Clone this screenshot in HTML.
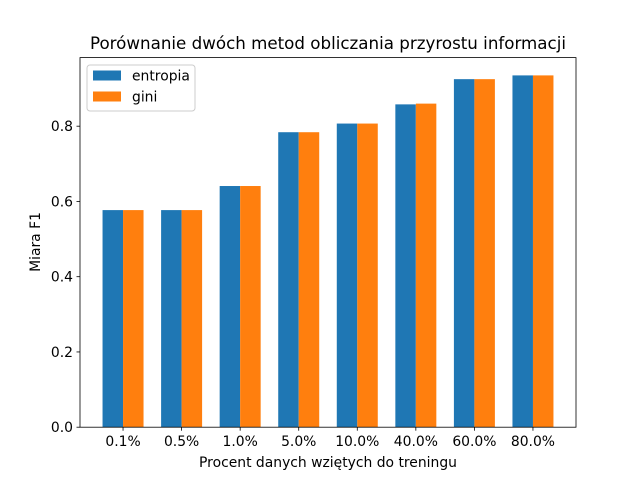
<!DOCTYPE html>
<html><head><meta charset="utf-8"><style>
body{margin:0;background:#fff;}
svg text{font-family:"DejaVu Sans","Liberation Sans",sans-serif;fill:#000;}
</style></head><body>
<svg id="chart" width="640" height="480" xmlns="http://www.w3.org/2000/svg">
<rect width="640" height="480" fill="#fff"/>
<text x="328" y="49" font-size="16.7" text-anchor="middle">Porównanie dwóch metod obliczania przyrostu informacji</text>
<g id="bars"></g>
<g id="xticks"></g>
<g id="yticks"></g>
<rect x="80" y="57.6" width="496" height="369.6" fill="none" stroke="#000" stroke-width="0.8"/>
<text x="328" y="467" font-size="13.9" text-anchor="middle">Procent danych wziętych do treningu</text>
<text x="0" y="0" font-size="13.9" text-anchor="middle" transform="translate(40,242) rotate(-90)">Miara F1</text>
<g>
<rect x="87" y="65" width="108" height="46" rx="3" fill="#fff" fill-opacity="0.8" stroke="#ccc"/>
<rect x="93" y="70.5" width="28" height="10" fill="#1f77b4"/>
<text x="132" y="80.5" font-size="13.9">entropia</text>
<rect x="93" y="91.5" width="28" height="10" fill="#ff7f0e"/>
<text x="132" y="101.5" font-size="13.9">gini</text>
</g>
</svg>
<script>
const categories=["0.1%","0.5%","1.0%","5.0%","10.0%","40.0%","60.0%","80.0%"];
const entropia=[0.577,0.577,0.641,0.784,0.807,0.858,0.925,0.935];
const gini=[0.577,0.577,0.641,0.784,0.807,0.860,0.925,0.935];
const yTicks=[0,0.2,0.4,0.6,0.8];
const yTickLabels=["0.0","0.2","0.4","0.6","0.8"];
const NS="http://www.w3.org/2000/svg";
const x0=80,x1=576,yTop=57.6,yBot=427.2;
const xmin=-0.735,xmax=categories.length-1+0.735;
const ymax=0.9823;
const X=v=>x0+(v-xmin)/(xmax-xmin)*(x1-x0);
const Y=v=>yBot-v/ymax*(yBot-yTop);
const bw=0.35;
function mk(tag,attrs,parent){const e=document.createElementNS(NS,tag);for(const k in attrs)e.setAttribute(k,attrs[k]);parent.appendChild(e);return e;}
const bars=document.getElementById('bars'),xt=document.getElementById('xticks'),yt=document.getElementById('yticks');
categories.forEach((c,i)=>{
 const a=mk('rect',{x:X(i-bw),y:Y(entropia[i]),width:X(i)-X(i-bw),height:Y(0)-Y(entropia[i]),fill:'#1f77b4'},bars);
 
 
 const b=mk('rect',{x:X(i),y:Y(gini[i]),width:X(i+bw)-X(i),height:Y(0)-Y(gini[i]),fill:'#ff7f0e'},bars);
 
 
 const t=mk('line',{x1:X(i),x2:X(i),y1:yBot,y2:yBot+3.5,stroke:'#000','stroke-width':0.8},xt);
 
 
 const l=mk('text',{x:X(i),y:yBot+19,'font-size':13.9,'text-anchor':'middle'},xt);
 l.textContent=c;
 
 
});
yTicks.forEach((v,i)=>{
 const t=mk('line',{x1:x0-3.5,x2:x0,y1:Y(v),y2:Y(v),stroke:'#000','stroke-width':0.8},yt);
 
 
 const l=mk('text',{x:x0-7,y:Y(v)+5,'font-size':13.9,'text-anchor':'end'},yt);
 l.textContent=yTickLabels[i];
 
 
});
</script>
</body></html>
